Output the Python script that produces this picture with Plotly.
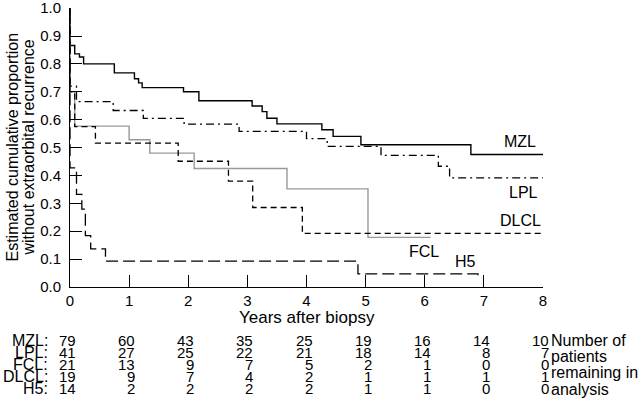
import plotly.graph_objects as go

# ---- data ----
mzl_t = [0, 0, 0.08, 0.16, 0.23, 0.75, 1.09, 1.16, 1.22, 1.92, 2.18, 3.08, 3.25, 3.33, 3.5, 4.26, 4.45, 4.92, 6.78, 8]
mzl_s = [1.0, 0.866, 0.836, 0.825, 0.80, 0.768, 0.747, 0.732, 0.715, 0.70, 0.668, 0.649, 0.629, 0.605, 0.585, 0.564, 0.54, 0.51, 0.475, 0.475]

lpl_t = [0, 0, 0.11, 0.73, 1.24, 1.93, 2.86, 4.0, 4.35, 5.26, 6.23, 6.42, 8]
lpl_s = [1.0, 0.72, 0.665, 0.633, 0.605, 0.584, 0.558, 0.532, 0.504, 0.472, 0.433, 0.391, 0.391]

fcl_t = [0, 0, 0.08, 1.0, 1.35, 2.1, 3.67, 5.04, 6.1]
fcl_s = [1.0, 0.70, 0.577, 0.528, 0.48, 0.425, 0.352, 0.178, 0.178]

dlcl_t = [0, 0, 0.08, 0.43, 1.83, 2.68, 3.09, 3.93, 8]
dlcl_s = [1.0, 0.70, 0.575, 0.516, 0.451, 0.38, 0.285, 0.192, 0.192]

h5_t = [0, 0, 0.11, 0.2, 0.26, 0.35, 0.6, 4.87, 6.9, 6.9]
h5_s = [1.0, 0.427, 0.332, 0.279, 0.184, 0.137, 0.093, 0.047, 0.047, 0.03]

years = [0, 1, 2, 3, 4, 5, 6, 7, 8]
y_ticks = [0.0, 0.1, 0.2, 0.3, 0.4, 0.5, 0.6, 0.7, 0.8, 0.9, 1.0]
risk_groups = ["MZL:", "LPL:", "FCL:", "DLCL:", "H5:"]
risk_mzl = [79, 60, 43, 35, 25, 19, 16, 14, 10]
risk_lpl = [41, 27, 25, 22, 21, 18, 14, 8, 7]
risk_fcl = [21, 13, 9, 7, 5, 2, 1, 0, 0]
risk_dlcl = [19, 9, 7, 4, 2, 1, 1, 1, 1]
risk_h5 = [14, 2, 2, 2, 2, 1, 1, 0, 0]
side_note = ["Number of", "patients", "remaining in", "analysis"]

FONT = "Liberation Sans, Arial, Helvetica, sans-serif"

fig = go.Figure()
styles = [
    (mzl_t, mzl_s, "black", "solid", 1.4),
    (lpl_t, lpl_s, "black", "8px,4px,2px,4px", 1.3),
    (fcl_t, fcl_s, "#999999", "solid", 1.4),
    (dlcl_t, dlcl_s, "black", "6px,4px", 1.3),
    (h5_t, h5_s, "black", "12px,5px", 1.3),
]
for t, s, c, d, w in styles:
    fig.add_trace(go.Scatter(x=t, y=s, mode="lines", line=dict(shape="hv", color=c, dash=d, width=w),
                             showlegend=False, hoverinfo="skip", cliponaxis=False))

ann = []
# curve labels
lab = [("MZL", 7.92, 0.52, "right"), ("LPL", 7.95, 0.34, "right"), ("DLCL", 8.0, 0.237, "right"),
       ("FCL", 5.98, 0.127, "center"), ("H5", 6.69, 0.09, "center")]
for txt, x, y, xa in lab:
    ann.append(dict(text=txt, x=x, y=y, xref="x", yref="y", xanchor=xa, yanchor="middle",
                    showarrow=False, font=dict(size=16, color="black", family=FONT)))

# x title
ann.append(dict(text="Years after biopsy", x=4, y=0, xref="x", yref="paper", yshift=-30,
                xanchor="center", yanchor="middle", showarrow=False,
                font=dict(size=17, color="black", family=FONT)))
# y title (two lines)
for txt, xs in [("Estimated cumulative proportion", -58), ("without extraorbital recurrence", -42)]:
    ann.append(dict(text=txt, x=0, y=0.5, xref="paper", yref="paper", xshift=xs, textangle=-90,
                    xanchor="center", yanchor="middle", showarrow=False,
                    font=dict(size=16, color="black", family=FONT)))

# risk table
rows = [risk_mzl, risk_lpl, risk_fcl, risk_dlcl, risk_h5]
row_py = [340, 352, 364, 376, 388]
for g, r, py in zip(risk_groups, rows, row_py):
    ys = -(py - 286.7)
    ann.append(dict(text=g, x=0, y=0, xref="x", yref="paper", xshift=-21, yshift=ys,
                    xanchor="right", yanchor="middle", showarrow=False, borderpad=0,
                    font=dict(size=16, color="black", family=FONT)))
    for yr, v in zip(years, r):
        ann.append(dict(text=str(v), x=yr, y=0, xref="x", yref="paper", xshift=7, yshift=ys,
                        xanchor="right", yanchor="middle", showarrow=False, borderpad=0,
                        font=dict(size=15, color="black", family=FONT)))
for i, txt in enumerate(side_note):
    py = 340 + i * 16.3
    ann.append(dict(text=txt, x=1, y=0, xref="paper", yref="paper", xshift=7, yshift=-(py - 286.7),
                    xanchor="left", yanchor="middle", showarrow=False, borderpad=0,
                    font=dict(size=16, color="black", family=FONT)))

fig.update_layout(
    width=640, height=404,
    margin=dict(l=70, r=97, t=8, b=117, autoexpand=False),
    paper_bgcolor="white", plot_bgcolor="white",
    annotations=ann,
    font=dict(family=FONT, color="black"),
    xaxis=dict(range=[0, 8], tickvals=years, ticks="inside", ticklen=12, tickcolor="black",
               showline=True, linecolor="black", linewidth=1, showgrid=False, zeroline=False,
               tickfont=dict(size=15, color="black"), fixedrange=True, ticklabeloverflow="allow"),
    yaxis=dict(range=[0, 1.0005], tickvals=y_ticks, tickformat=".1f", ticks="inside", ticklen=12,
               tickcolor="black",
               showline=True, linecolor="black", linewidth=1, showgrid=False, zeroline=False,
               ticklabelstandoff=5, ticklabeloverflow="allow",
               tickfont=dict(size=15, color="black"), fixedrange=True),
)
fig.write_html("out.html", config={"displayModeBar": False},
               post_script="document.body.style.margin='0';")
